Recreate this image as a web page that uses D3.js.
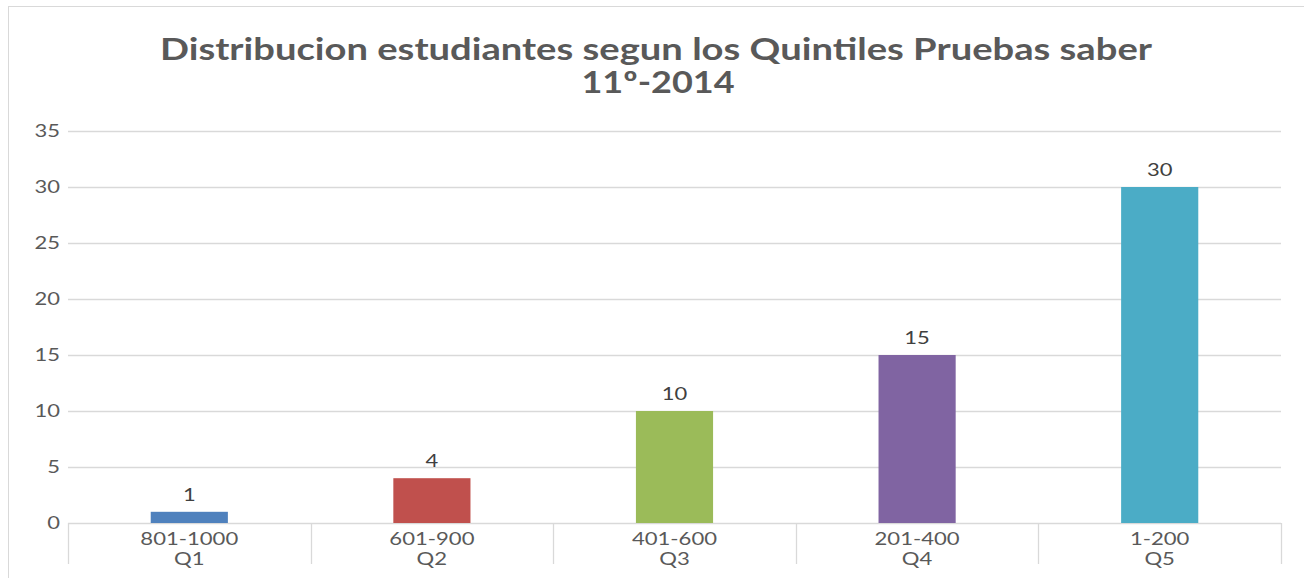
<!DOCTYPE html>
<html>
<head>
<meta charset="utf-8">
<script src="https://cdn.jsdelivr.net/npm/d3@7"></script>
<style>
  body { margin: 0; background: #fff; }
  text { font-family: Lato, "Open Sans", sans-serif; }
</style>
</head>
<body>
<div id="chart"></div>
<script>
// Data
const ranges = ["801-1000", "601-900", "401-600", "201-400", "1-200"];
const quintiles = ["Q1", "Q2", "Q3", "Q4", "Q5"];
const counts = [1, 4, 10, 15, 30];
const barColors = ["#4F81BD", "#C0504D", "#9BBB59", "#8064A2", "#4BACC6"];
const yTicks = [0, 5, 10, 15, 20, 25, 30, 35];

const width = 1304, height = 578;
const margin = { top: 131, right: 23, bottom: 55, left: 68 };

const svg = d3.select("#chart").append("svg")
  .attr("width", width)
  .attr("height", height);

// widen a text horizontally, keeping its anchor
function widen(sel, k) {
  sel.each(function () {
    const len = this.getComputedTextLength();
    d3.select(this)
      .attr("textLength", len * k)
      .attr("lengthAdjust", "spacingAndGlyphs");
  });
}

// Chart frame
svg.append("rect")
  .attr("x", 8.5).attr("y", 6.5)
  .attr("width", width + 10).attr("height", height + 10)
  .attr("fill", "none")
  .attr("stroke", "#d9d9d9");

const x = d3.scaleBand()
  .domain(d3.range(counts.length))
  .range([margin.left, width - margin.right])
  .paddingInner(0)
  .paddingOuter(0);

const y = d3.scaleLinear()
  .domain([0, 35])
  .range([height - margin.bottom, margin.top]);

// Gridlines
svg.append("g")
  .selectAll("line")
  .data(yTicks)
  .enter()
  .append("line")
  .attr("x1", margin.left)
  .attr("x2", width - margin.right)
  .attr("y1", d => Math.round(y(d)) + 0.5)
  .attr("y2", d => Math.round(y(d)) + 0.5)
  .attr("stroke", "#d9d9d9")
  .attr("stroke-width", 1.3);

// Y labels
svg.append("g")
  .selectAll("text")
  .data(yTicks)
  .enter()
  .append("text")
  .attr("x", margin.left - 8)
  .attr("y", d => y(d))
  .attr("dy", "0.35em")
  .attr("text-anchor", "end")
  .style("font-size", "18px")
  .attr("fill", "#595959")
  .text(d => d)
  .call(widen, 1.22);

// Category separators
const seps = d3.range(counts.length + 1).map(i =>
  i < counts.length ? x(i) : x(counts.length - 1) + x.bandwidth());
svg.append("g")
  .selectAll("line")
  .data(seps)
  .enter()
  .append("line")
  .attr("x1", d => Math.round(d) + 0.5)
  .attr("x2", d => Math.round(d) + 0.5)
  .attr("y1", y(0))
  .attr("y2", y(0) + 41)
  .attr("stroke", "#d9d9d9")
  .attr("stroke-width", 1.3);

// Bars
const barW = x.bandwidth() * 0.318;
svg.append("g")
  .selectAll("rect")
  .data(counts)
  .enter()
  .append("rect")
  .attr("x", (d, i) => x(i) + (x.bandwidth() - barW) / 2)
  .attr("y", d => y(d))
  .attr("width", barW)
  .attr("height", d => y(0) - y(d))
  .attr("fill", (d, i) => barColors[i]);

// Value labels
svg.append("g")
  .selectAll("text")
  .data(counts)
  .enter()
  .append("text")
  .attr("x", (d, i) => x(i) + x.bandwidth() / 2)
  .attr("y", d => y(d) - 11)
  .attr("text-anchor", "middle")
  .style("font-size", "18px")
  .attr("fill", "#404040")
  .text(d => d)
  .call(widen, 1.22);

// Category labels (two levels)
const cats = svg.append("g");
ranges.forEach((r, i) => {
  const cx = x(i) + x.bandwidth() / 2;
  cats.append("text")
    .attr("x", cx)
    .attr("y", y(0) + 22)
    .attr("text-anchor", "middle")
    .style("font-size", "17px")
    .attr("fill", "#595959")
    .text(r)
    .call(widen, 1.3);
  cats.append("text")
    .attr("x", cx)
    .attr("y", y(0) + 42)
    .attr("text-anchor", "middle")
    .style("font-size", "17px")
    .attr("fill", "#595959")
    .text(quintiles[i])
    .call(widen, 1.3);
});

// Title
svg.append("text")
  .attr("x", 656)
  .attr("y", 60)
  .attr("text-anchor", "middle")
  .attr("textLength", 992)
  .attr("lengthAdjust", "spacingAndGlyphs")
  .style("font-size", "30px")
  .style("font-weight", "bold")
  .attr("fill", "#595959")
  .text("Distribucion estudiantes segun los Quintiles Pruebas saber");

svg.append("text")
  .attr("x", 658)
  .attr("y", 93)
  .attr("text-anchor", "middle")
  .attr("textLength", 153)
  .attr("lengthAdjust", "spacingAndGlyphs")
  .style("font-size", "30px")
  .style("font-weight", "bold")
  .attr("fill", "#595959")
  .text("11º-2014");
</script>
</body>
</html>
